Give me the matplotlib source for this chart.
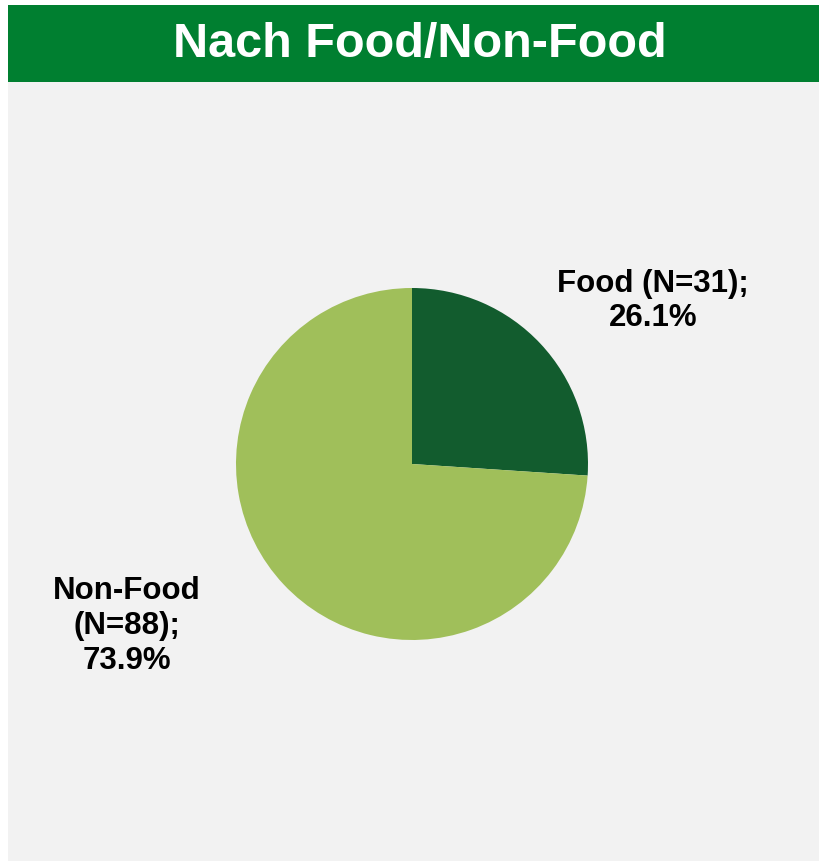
import matplotlib.pyplot as plt
from matplotlib.patches import Rectangle

labels = ['Food (N=31);\n26.1%', 'Non-Food\n(N=88);\n73.9%']
values = [31, 88]
colors = ['#125C2E', '#A0BF5A']
title = 'Nach Food/Non-Food'

W, H = 819, 862
fig = plt.figure(figsize=(W / 100, H / 100), dpi=100)
fig.patch.set_facecolor('white')

# background panel and title bar
fig.patches.append(Rectangle((8 / W, 0), 1 - 8 / W, 1 - 83 / H, transform=fig.transFigure,
                             facecolor='#F2F2F2', edgecolor='none', zorder=-2))
fig.patches.append(Rectangle((8 / W, 1 - 83 / H), 1 - 8 / W, 77 / H, transform=fig.transFigure,
                             facecolor='#007F30', edgecolor='none', zorder=-2))
fig.text(420 / W, 1 - 45 / H, title, ha='center', va='center', color='white',
         fontsize=35, fontweight='bold', family=['Liberation Sans Narrow', 'Liberation Sans', 'DejaVu Sans'])

# pie axes: center (412, 465), radius 176
cx, cy, r = 412, 465, 176
ax = fig.add_axes([(cx - r) / W, 1 - (cy + r) / H, 2 * r / W, 2 * r / H])
ax.patch.set_visible(False)
ax.pie(values, colors=colors, startangle=90, counterclock=False, radius=1,
       wedgeprops=dict(linewidth=0))
ax.set_xlim(-1, 1)
ax.set_ylim(-1, 1)
ax.set_aspect('equal')
ax.axis('off')

font = dict(fontsize=22.5, fontweight='bold', family=['Liberation Sans', 'DejaVu Sans'],
            ha='center', va='center', linespacing=1.2, color='black')
fig.text(653 / W, 1 - 301 / H, labels[0], **font)
fig.text(127 / W, 1 - 626 / H, labels[1], **font)

plt.savefig('out.png', dpi=100)
plt.close('all')
